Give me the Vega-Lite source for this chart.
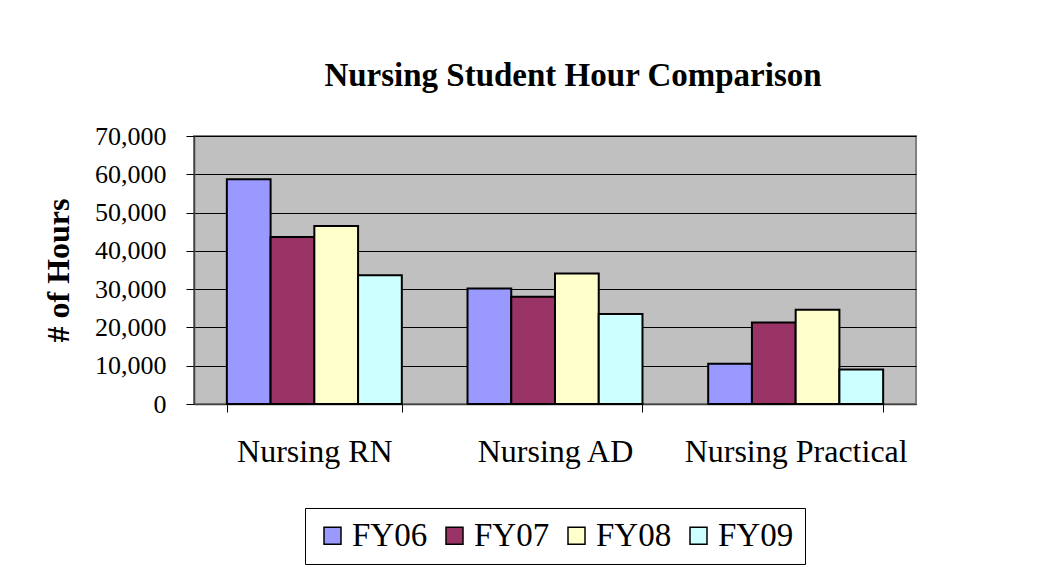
{
  "$schema": "https://vega.github.io/schema/vega-lite/v6.json",
  "width": 722,
  "height": 268,
  "autosize": {"type": "none"},
  "padding": {"left": 194, "top": 136, "right": 147, "bottom": 163},
  "background": "white",
  "title": {
    "text": "Nursing Student Hour Comparison",
    "font": "Liberation Serif",
    "fontSize": 33,
    "fontWeight": "bold",
    "color": "black",
    "offset": 30,
    "dx": 18
  },
  "data": {
    "values": [
      {"program": "Nursing RN", "year": "FY06", "hours": 58700},
      {"program": "Nursing RN", "year": "FY07", "hours": 43600},
      {"program": "Nursing RN", "year": "FY08", "hours": 46500},
      {"program": "Nursing RN", "year": "FY09", "hours": 33600},
      {"program": "Nursing AD", "year": "FY06", "hours": 30200},
      {"program": "Nursing AD", "year": "FY07", "hours": 28000},
      {"program": "Nursing AD", "year": "FY08", "hours": 34100},
      {"program": "Nursing AD", "year": "FY09", "hours": 23500},
      {"program": "Nursing Practical", "year": "FY06", "hours": 10500},
      {"program": "Nursing Practical", "year": "FY07", "hours": 21300},
      {"program": "Nursing Practical", "year": "FY08", "hours": 24600},
      {"program": "Nursing Practical", "year": "FY09", "hours": 9000}
    ]
  },
  "mark": {"type": "bar", "stroke": "black", "strokeWidth": 2, "opacity": 1},
  "encoding": {
    "x": {
      "field": "program",
      "type": "nominal",
      "sort": ["Nursing RN", "Nursing AD", "Nursing Practical"],
      "scale": {"paddingInner": 0.273, "paddingOuter": 0.1365},
      "axis": {
        "title": null,
        "labelAngle": 0,
        "labelLimit": 400,
        "tickBand": "extent",
        "tickSize": 8,
        "labelPadding": 24,
        "labelFont": "Liberation Serif",
        "labelFontSize": 32,
        "labelColor": "black",
        "domainColor": "#404040",
        "domainWidth": 1.5,
        "tickColor": "black",
        "grid": false
      }
    },
    "xOffset": {
      "field": "year",
      "type": "nominal",
      "scale": {"paddingInner": 0, "paddingOuter": 0}
    },
    "y": {
      "field": "hours",
      "type": "quantitative",
      "scale": {"domain": [0, 70000], "nice": false},
      "axis": {
        "title": "# of Hours",
        "titleFont": "Liberation Serif",
        "titleFontSize": 32,
        "titleFontWeight": "bold",
        "titleColor": "black",
        "titlePadding": 19,
        "values": [0, 10000, 20000, 30000, 40000, 50000, 60000, 70000],
        "format": ",d",
        "labelFont": "Liberation Serif",
        "labelFontSize": 26,
        "labelColor": "black",
        "labelPadding": 20,
        "tickSize": 8,
        "tickColor": "black",
        "domainColor": "#404040",
        "domainWidth": 1.5,
        "grid": true,
        "gridColor": "black",
        "gridOpacity": 1,
        "gridWidth": 1
      }
    },
    "color": {
      "field": "year",
      "type": "nominal",
      "scale": {
        "domain": ["FY06", "FY07", "FY08", "FY09"],
        "range": ["#9999FF", "#993366", "#FFFFCC", "#CCFFFF"]
      },
      "legend": {
        "title": null,
        "orient": "bottom",
        "direction": "horizontal",
        "columns": 4,
        "offset": 41,
        "padding": 11,
        "strokeColor": "black",
        "symbolType": "square",
        "symbolSize": 289,
        "symbolStrokeColor": "black",
        "symbolStrokeWidth": 1.5,
        "symbolOpacity": 1,
        "labelFont": "Liberation Serif",
        "labelFontSize": 33,
        "labelColor": "black",
        "labelOffset": 3,
        "columnPadding": 10
      }
    }
  },
  "config": {
    "view": {"fill": "#C0C0C0", "stroke": "#808080", "strokeWidth": 2},
    "legend": {"layout": {"bottom": {"anchor": "middle"}}}
  }
}
